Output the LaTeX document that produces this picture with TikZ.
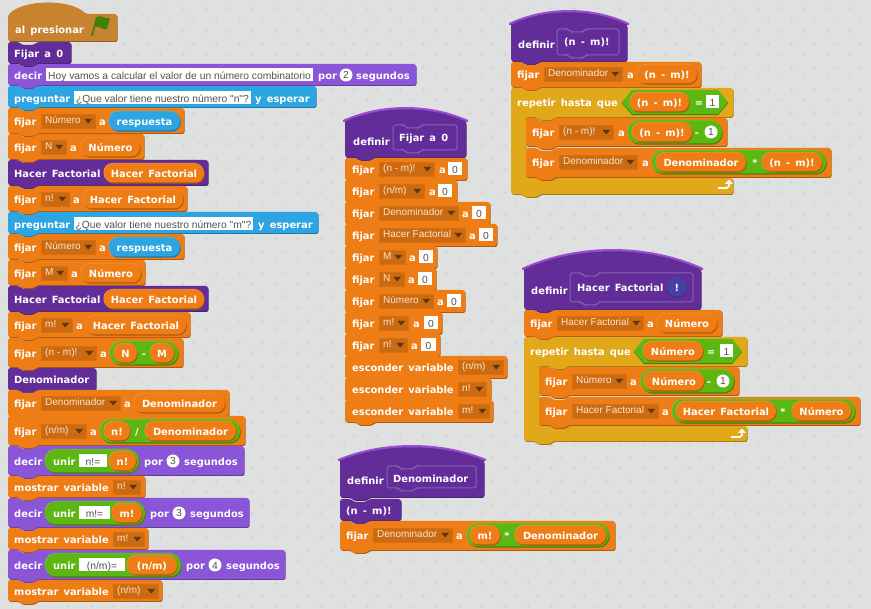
\documentclass[tikz,border=0pt]{standalone}
\usepackage{fontspec}
\setmainfont{DejaVu Sans}[WordSpace=1.5]
\newfontfamily\thinfont{Liberation Sans}
\definecolor{bgc}{HTML}{DFE1E1}
\definecolor{crossc}{HTML}{D4D6D6}
\definecolor{orng}{HTML}{EE7D16}
\definecolor{drpc}{HTML}{CB6A10}
\definecolor{drptx}{HTML}{FBE6CE}
\definecolor{tric}{HTML}{5E3708}
\definecolor{purp}{HTML}{8A55D7}
\definecolor{dpurp}{HTML}{632D99}
\definecolor{blu}{HTML}{2CA5E2}
\definecolor{ctrl}{HTML}{E1A91A}
\definecolor{hatc}{HTML}{C88330}
\definecolor{grn}{HTML}{5CB712}
\definecolor{stripe}{HTML}{9A4BD0}
\definecolor{protoc}{HTML}{8560B0}
\definecolor{quest}{HTML}{4A3FA5}
\tikzset{
  blktext/.style={text=white,inner sep=0pt,font=\bfseries\fontsize{9.9}{12}\selectfont},
  thintext/.style={inner sep=0pt,font=\thinfont\fontsize{10.3}{12}\selectfont},
  droptext/.style={inner sep=0pt,font=\thinfont\fontsize{10}{12}\selectfont}
}
% stack block
\newcommand\blkpath[4]{(#1,#2) -- ({#1+11},#2) -- ({#1+14},{#2+3}) -- ({#1+26},{#2+3}) -- ({#1+29},#2) -- (#3,#2) -- (#3,#4) -- ({#1+29},#4) -- ({#1+26},{#4+3}) -- ({#1+14},{#4+3}) -- ({#1+11},#4) -- (#1,#4) -- cycle}
\newcommand\blk[5]{%
  \fill[#1!72!black,rounded corners=2.5pt,shift={(0.7,1)}] \blkpath{#2}{#3}{#4}{#5};
  \fill[#1,rounded corners=2.5pt] \blkpath{#2}{#3}{#4}{#5};}
% C block: x1 y1 x2 ya xin yb y2
\newcommand\cpath[7]{(#1,#2) -- ({#1+11},#2) -- ({#1+14},{#2+3}) -- ({#1+26},{#2+3}) -- ({#1+29},#2) -- (#3,#2) -- (#3,#4) -- ({#5+29},#4) -- ({#5+26},{#4+3}) -- ({#5+14},{#4+3}) -- ({#5+11},#4) -- (#5,#4) -- (#5,#6) -- (#3,#6) -- (#3,#7) -- ({#1+29},#7) -- ({#1+26},{#7+3}) -- ({#1+14},{#7+3}) -- ({#1+11},#7) -- (#1,#7) -- cycle}
\newcommand\cblk[7]{%
  \fill[ctrl!72!black,rounded corners=2.5pt,shift={(0.7,1)}] \cpath{#1}{#2}{#3}{#4}{#5}{#6}{#7};
  \fill[ctrl,rounded corners=2.5pt] \cpath{#1}{#2}{#3}{#4}{#5}{#6}{#7};}
% define hat: x1 x2 peak edge bottom
\newcommand\defhat[5]{%
  \fill[stripe] ({#1-2},#4) .. controls ({#1+(#2-#1)*0.3},{#3-(#4-#3)*0.33}) and ({#2-(#2-#1)*0.3},{#3-(#4-#3)*0.33}) .. ({#2+2},#4) -- ({#2+2},{#4+2}) -- ({#1-2},{#4+2}) -- cycle;
  \fill[dpurp!72!black,rounded corners=2.5pt,shift={(0.5,1)}] (#1,{#4+1}) -- (#2,{#4+1}) -- (#2,#5) -- ({#1+29},#5) -- ({#1+26},{#5+3}) -- ({#1+14},{#5+3}) -- ({#1+11},#5) -- (#1,#5) -- cycle;
  \fill[dpurp] (#1,{#4+1.5}) .. controls ({#1+(#2-#1)*0.3},{#3-(#4-#3)*0.33+2.5}) and ({#2-(#2-#1)*0.3},{#3-(#4-#3)*0.33+2.5}) .. (#2,{#4+1.5}) -- (#2,{#4+6}) -- (#1,{#4+6}) -- cycle;
  \fill[dpurp,rounded corners=2.5pt] (#1,{#4+3}) -- (#2,{#4+3}) -- (#2,#5) -- ({#1+29},#5) -- ({#1+26},{#5+3}) -- ({#1+14},{#5+3}) -- ({#1+11},#5) -- (#1,#5) -- cycle;}
\newcommand\proto[4]{\draw[protoc,line width=1pt,rounded corners=2.5pt] \blkpath{#1}{#2}{#3}{#4};}
\newcommand\tx[3]{\node[blktext,anchor=base west] at (#1,{#2+4.3}) {#3};}
\newcommand\txc[3]{\node[blktext,anchor=base] at (#1,{#2+4.3}) {#3};}
\newcommand\pillshape[6]{%
  \fill[#1!72!black,rounded corners=#6,shift={(0.8,1.2)}] (#2,#3) rectangle (#4,#5);
  \fill[#1!78!white,rounded corners=#6,shift={(-0.5,-0.5)}] (#2,#3) rectangle (#4,#5);
  \fill[#1,rounded corners=#6] (#2,#3) rectangle (#4,#5);}
\newcommand\rep[5][orng]{\pillshape{#1}{#2}{{#4-9.5}}{#3}{{#4+9.5}}{9pt}\txc{{(#2+#3)/2}}{#4}{#5}}
\newcommand\grnp[3]{\pillshape{grn}{#1}{{#3-11.5}}{#2}{{#3+11.5}}{11pt}}
\newcommand\boolb[3]{%
  \fill[grn!72!black,shift={(0,1.2)}] (#1,#3) -- ({#1+10},{#3-12}) -- ({#2-10},{#3-12}) -- (#2,#3) -- ({#2-10},{#3+12}) -- ({#1+10},{#3+12}) -- cycle;
  \fill[grn] (#1,#3) -- ({#1+10},{#3-12}) -- ({#2-10},{#3-12}) -- (#2,#3) -- ({#2-10},{#3+12}) -- ({#1+10},{#3+12}) -- cycle;}
\newcommand\drp[4]{%
  \fill[drpc] (#1,{#3-7}) rectangle (#2,{#3+7});
  \draw[drpc!70!orng,line width=.6pt] (#1,{#3-7}) rectangle (#2,{#3+7});
  \fill[tric] ({#2-10.5},{#3-2}) -- ({#2-3},{#3-2}) -- ({#2-6.75},{#3+2.5}) -- cycle;
  \node[droptext,text=drptx,anchor=base west] at ({#1+4},{#3+3}) {#4};}
\newcommand\strb[4]{%
  \fill[white] (#1,{#3-6.5}) rectangle (#2,{#3+6.5});
  \node[thintext,text=black!68,anchor=base] at ({(#1+#2)/2},{#3+4.2}) {#4};}
\newcommand\numc[3]{%
  \fill[white] (#1,#2) circle (6.5);
  \node[thintext,text=black!68,anchor=base] at (#1,{#2+4}) {#3};}
\newcommand\setvar[7]{% y1 y2 t x1 x2 dropx2 text
  \pgfmathsetmacro\dropL{#4+33}\pgfmathsetmacro\txL{#4+6}%
  \blk{orng}{#4}{#1}{#5}{#2}\tx{\txL}{#3}{fijar}\drp{\dropL}{#6}{#3}{#7}}
\newcommand\setzero[7]{% t right dropR aX boxL boxR text
  \pgfmathsetmacro\rowT{#1-11}\pgfmathsetmacro\rowB{#1+11}%
  \blk{orng}{345}{\rowT}{#2}{\rowB}\tx{352}{#1}{fijar}\drp{379}{#3}{#1}{#7}\tx{#4}{#1}{a}\strb{#5}{#6}{#1}{0}}
\newcommand\hidevar[4]{% t right dropR text
  \pgfmathsetmacro\rowT{#1-11}\pgfmathsetmacro\rowB{#1+11}%
  \blk{orng}{345}{\rowT}{#2}{\rowB}\tx{352}{#1}{esconder variable}\drp{458}{#3}{#1}{#4}}
\begin{document}
\begin{tikzpicture}[x=1pt,y=-1pt]
\useasboundingbox (0,0) rectangle (871,609);
\fill[bgc] (0,0) rectangle (871,609);
% grid crosses
\foreach \i in {0,...,38}{\foreach \j in {0,...,26}{
  \draw[crossc,line width=.45pt] ({\i*23+22.3-2},{\j*23+8}) -- ++(4,0) ({\i*23+22.3},{\j*23+8-2}) -- ++(0,4);
  \draw[crossc,line width=.45pt] ({\i*23+9.3-2},{\j*23+21.3}) -- ++(4,0) ({\i*23+9.3},{\j*23+21.3-2}) -- ++(0,4);
}}
% ===== main stack =====
\fill[hatc!72!black,rounded corners=2.5pt,shift={(0.7,1)}] (8,41) -- (8,15) .. controls (25,-1) and (70,-1) .. (86,14) -- (117,14) -- (117,41) -- cycle;
\fill[hatc,rounded corners=2.5pt] (8,41) -- (8,15) .. controls (25,-1) and (70,-1) .. (86,14) -- (117,14) -- (117,41) -- cycle;
\tx{15}{29}{al presionar}
\fill[grn!70!black] (91,36) -- (96,17) .. controls (102,14) and (105,20) .. (110,18) -- (107,29) .. controls (103,31) and (99,25) .. (95,27) -- (93,36) -- cycle;
\blk{dpurp}{8}{42}{71}{63}\tx{14}{53}{Fijar a 0}
\blk{purp}{8}{64}{416}{85}\tx{14}{75}{decir}\strb{46}{313}{75}{Hoy vamos a calcular el valor de un número combinatorio}\tx{318}{75}{por}\numc{346}{75}{2}\tx{356}{75}{segundos}
\blk{blu}{8}{86}{316}{107}\tx{14}{98}{preguntar}\strb{74}{251}{98}{¿Que valor tiene nuestro número "n"?}\tx{255}{98}{y esperar}
\setvar{108}{133}{121}{8}{184}{95}{Número}\tx{99}{121}{a}\rep[blu]{109}{180}{121}{respuesta}
\setvar{134}{159}{147}{8}{144}{66}{N}\tx{70}{147}{a}\rep{81}{140}{147}{Número}
\blk{dpurp}{8}{160}{208}{185}\tx{14}{173}{Hacer Factorial}\rep{104}{204}{173}{Hacer Factorial}
\setvar{186}{211}{199}{8}{187}{69}{n!}\tx{73}{199}{a}\rep{83}{183}{199}{Hacer Factorial}
\blk{blu}{8}{212}{318}{233}\tx{14}{224}{preguntar}\strb{74}{253}{224}{¿Que valor tiene nuestro número "m"?}\tx{258}{224}{y esperar}
\setvar{234}{259}{247}{8}{184}{95}{Número}\tx{99}{247}{a}\rep[blu]{109}{180}{247}{respuesta}
\setvar{260}{285}{273}{8}{145}{67}{M}\tx{71}{273}{a}\rep{81}{141}{273}{Número}
\blk{dpurp}{8}{286}{208}{311}\tx{14}{299}{Hacer Factorial}\rep{104}{204}{299}{Hacer Factorial}
\setvar{312}{337}{325}{8}{190}{72}{m!}\tx{76}{325}{a}\rep{86}{186}{325}{Hacer Factorial}
\setvar{338}{367}{353}{8}{183}{96}{(n - m)!}\tx{100}{353}{a}\grnp{110}{178}{353}\rep{114}{137}{353}{N}\txc{144}{353}{-}\rep{150}{174}{353}{M}
\blk{dpurp}{8}{368}{96}{390}\tx{14}{379}{Denominador}
\setvar{390}{416}{403}{8}{229}{120}{Denominador}\tx{124}{403}{a}\rep{134}{225}{403}{Denominador}
\setvar{416}{445}{431}{8}{245}{86}{(n/m)}\tx{90}{431}{a}\grnp{100}{240}{431}\rep{104}{130}{431}{n!}\txc{137}{431}{/}\rep{145}{236}{431}{Denominador}
\blk{purp}{8}{446}{244}{475}\tx{14}{461}{decir}\grnp{45}{139}{461}\tx{53}{461}{unir}\strb{79}{107}{461}{n!=}\rep{109}{136}{461}{n!}\tx{144}{461}{por}\numc{173}{461}{3}\tx{184}{461}{segundos}
\blk{orng}{8}{476}{145}{497}\tx{14}{487}{mostrar variable}\drp{113}{140}{487}{n!}
\blk{purp}{8}{498}{249}{527}\tx{14}{513}{decir}\grnp{45}{145}{513}\tx{53}{513}{unir}\strb{79}{110}{513}{m!=}\rep{112}{142}{513}{m!}\tx{150}{513}{por}\numc{179}{513}{3}\tx{190}{513}{segundos}
\blk{orng}{8}{528}{148}{549}\tx{14}{539}{mostrar variable}\drp{113}{144}{539}{m!}
\blk{purp}{8}{550}{285}{579}\tx{14}{565}{decir}\grnp{45}{181}{565}\tx{53}{565}{unir}\strb{79}{125}{565}{(n/m)=}\rep{127}{177}{565}{(n/m)}\tx{186}{565}{por}\numc{215}{565}{4}\tx{226}{565}{segundos}
\blk{orng}{8}{580}{162}{601}\tx{14}{591}{mostrar variable}\drp{113}{158}{591}{(n/m)}
% ===== definir Fijar a 0 =====
\defhat{345}{466}{107}{120}{157}\proto{393}{125}{457}{150}\tx{353}{141}{definir}\tx{399}{137}{Fijar a 0}
\setzero{169}{467}{434}{439}{448}{462}{(n - m)!}
\setzero{191}{457}{424}{429}{438}{452}{(n/m)}
\setzero{213}{490}{458}{462}{472}{486}{Denominador}
\setzero{235}{497}{465}{469}{479}{493}{Hacer Factorial}
\setzero{257}{437}{405}{409}{419}{433}{M}
\setzero{279}{436}{404}{408}{418}{432}{N}
\setzero{301}{465}{433}{437}{447}{461}{Número}
\setzero{323}{442}{408}{413}{424}{438}{m!}
\setzero{345}{440}{407}{411}{421}{436}{n!}
\hidevar{367}{507}{503}{(n/m)}
\hidevar{389}{491}{486}{n!}
\hidevar{411}{493}{489}{m!}
% ===== definir (n - m)! =====
\defhat{511}{627}{10}{23}{61}\proto{557}{29}{619}{55}\tx{518}{44}{definir}\tx{564}{41}{(n - m)!}
\setvar{62}{87}{74}{511}{701}{622}{Denominador}\tx{627}{74}{a}\rep{637}{697}{74}{(n - m)!}
\cblk{511}{88}{733}{117}{526}{178}{194}
\tx{517}{102}{repetir hasta que}\boolb{622}{728}{102}\rep{630}{689}{102}{(n - m)!}\txc{699}{102}{=}\strb{706}{719}{102}{1}
\setvar{118}{146}{132}{526}{727}{613}{(n - m)!}\tx{618}{132}{a}\grnp{628}{722}{132}\rep{632}{692}{132}{(n - m)!}\txc{697}{132}{-}\numc{711}{132}{1}
\setvar{148}{177}{162}{526}{831}{637}{Denominador}\tx{642}{162}{a}\grnp{652}{826}{162}\rep{656}{746}{162}{Denominador}\txc{755}{162}{*}\rep{762}{822}{162}{(n - m)!}
\draw[white,line width=1.6pt] (718,188) -- (727,188) -- (729,186) -- (729,183);
\fill[white] (725,184) -- (729,179.5) -- (733,184) -- cycle;
% ===== definir Hacer Factorial =====
\defhat{524}{701}{249}{268}{309}\proto{570}{273}{693}{302}\tx{531}{290}{definir}\tx{577}{287}{Hacer Factorial}
\fill[quest!70!black] (677,288) circle (10);
\fill[quest] (677,287) circle (10);
\txc{677}{287}{!}
\setvar{310}{336}{323}{524}{722}{643}{Hacer Factorial}\tx{647}{323}{a}\rep{657}{717}{323}{Número}
\cblk{524}{337}{747}{366}{539}{426}{441}
\tx{530}{351}{repetir hasta que}\boolb{634}{742}{351}\rep{643}{703}{351}{Número}\txc{711}{351}{=}\strb{720}{733}{351}{1}
\setvar{367}{395}{381}{539}{739}{626}{Número}\tx{630}{381}{a}\grnp{641}{734}{381}\rep{644}{704}{381}{Número}\txc{709}{381}{-}\numc{723}{381}{1}
\setvar{397}{425}{411}{539}{860}{658}{Hacer Factorial}\tx{662}{411}{a}\grnp{672}{855}{411}\rep{676}{776}{411}{Hacer Factorial}\txc{783}{411}{*}\rep{792}{851}{411}{Número}
\draw[white,line width=1.6pt] (731,437) -- (740,437) -- (742,435) -- (742,432);
\fill[white] (738,433) -- (742,428.5) -- (746,433) -- cycle;
% ===== definir Denominador =====
\defhat{340}{484}{445}{459}{497}\proto{387}{466}{476}{488}\tx{347}{480}{definir}\tx{393}{478}{Denominador}
\blk{dpurp}{340}{499}{401}{520}\tx{346}{510}{(n - m)!}
\setvar{521}{550}{535}{340}{615}{452}{Denominador}\tx{456}{535}{a}\grnp{467}{609}{535}\rep{470}{500}{535}{m!}\txc{507}{535}{*}\rep{515}{606}{535}{Denominador}
\end{tikzpicture}
\end{document}
